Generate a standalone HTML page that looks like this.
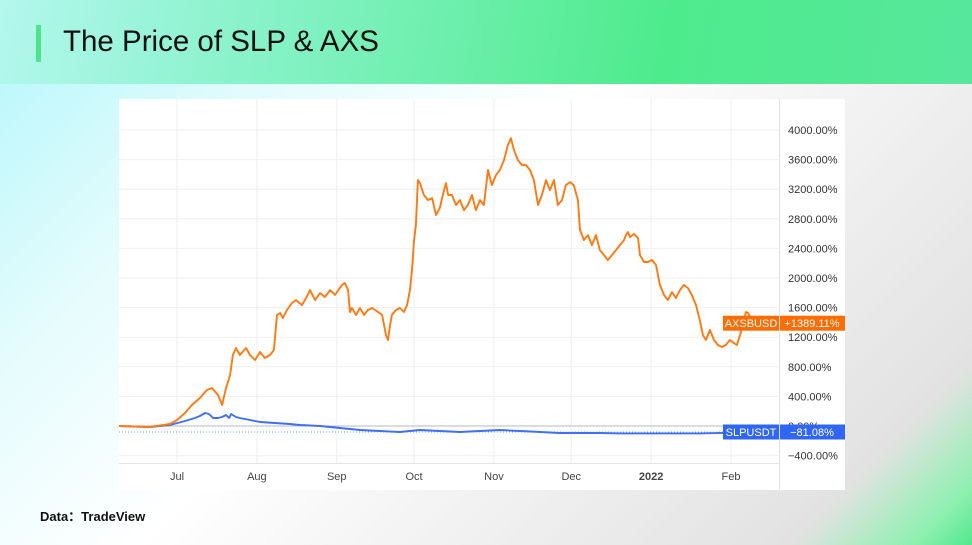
<!DOCTYPE html>
<html><head><meta charset="utf-8"><style>
html,body{margin:0;padding:0;}
body{width:972px;height:545px;position:relative;overflow:hidden;font-family:"Liberation Sans",sans-serif;
background:linear-gradient(135deg,#b2f7fb 0%,#e6fcfd 25%,#ffffff 45%,#eeeeee 70%,#e2e2e2 88%,#8ff0b0 96%,#52e88c 100%);}
#header{position:absolute;left:0;top:0;width:972px;height:84px;background:linear-gradient(100deg,#b4f7ee 0%,#8ef3cf 22%,#4eeb8c 68%,#56e79c 100%);}
#bar{position:absolute;left:36px;top:25px;width:5px;height:37px;background:#4fe38e;}
#title{position:absolute;left:63px;top:25px;font-size:29.5px;color:#111;}
#src{position:absolute;left:40px;top:506px;font-size:13px;font-weight:bold;color:#111;}
#chart{position:absolute;left:0;top:0;}
</style></head><body>
<div id="header"></div>
<div id="bar"></div>
<div id="title">The Price of SLP &amp; AXS</div>
<div id="src">Data：TradeView</div>
<svg id="chart" width="972" height="545"></svg>
<script>
const yTicks=[4000,3600,3200,2800,2400,2000,1600,1200,800,400,0,-400];
const monthLabels=["Jul","Aug","Sep","Oct","Nov","Dec","2022","Feb"];
const monthDays=[0,31,62,92,123,153,184,215];
const axsDays=[-22.5,-10.5,-2.7,0,3.1,5.8,8.9,11.6,13.6,15.9,17.5,19,20.6,21.7,22.9,24.4,26.8,28.3,30.3,32.2,34.1,36.1,37.6,38.8,40,41.1,42.7,44.6,46.2,48.5,50.1,51.6,53.6,55.5,57.4,59.4,61.3,64,65.2,66.4,67.1,67.9,69.5,71,72.6,74.1,75.7,78,79.6,81.1,81.9,82.7,83.4,85,86.5,88.1,89.3,90.4,91.2,92,92.7,93.5,94.3,95.8,97.4,99,100.5,102,103.6,104.4,105.2,106.7,108.3,109.8,111.4,112.9,114.5,116,117.6,119.1,120.7,122.2,123.8,125.3,126.9,128.4,129.6,130.8,132.3,133.9,135.4,137,138.5,140.1,141.6,143.2,144.7,146.3,147.8,149.4,150.9,152.5,154,155.6,156.4,157.9,159.5,161,162.6,164.1,165.7,167.2,168.8,170.4,171.9,173.5,174.2,175,175.8,177.3,178.9,179.7,181.2,182.8,184.3,185.9,187.4,189,190.5,192.1,193.6,195.2,196.7,198.3,199.8,201.4,202.9,204.1,205.3,206.8,208.4,209.9,211.5,213,214.6,216.1,217.3,218.5,219.6,220.8,221.6,223.1,224.7,226.2];
const axsValues=[0,-14,27,81,176,284,378,486,513,419,284,513,689,959,1054,959,1054,959,892,1000,919,959,1027,1500,1527,1459,1567,1662,1702,1635,1729,1837,1702,1797,1743,1837,1770,1905,1932,1837,1540,1594,1500,1594,1500,1567,1594,1540,1500,1229,1162,1365,1500,1567,1594,1540,1635,1837,2108,2513,2716,3323,3283,3121,3053,3080,2851,2945,3188,3283,3121,3121,2986,3053,2918,2986,3121,2918,3053,2986,3459,3256,3391,3459,3594,3796,3891,3729,3594,3526,3526,3459,3323,2986,3121,3323,3188,3323,2986,3053,3256,3296,3256,3053,2648,2513,2580,2445,2580,2378,2310,2243,2310,2378,2445,2513,2580,2621,2553,2594,2540,2310,2216,2216,2243,2175,1905,1770,1702,1810,1729,1837,1905,1864,1770,1635,1432,1229,1162,1297,1162,1094,1067,1094,1162,1121,1094,1229,1365,1540,1527,1432,1459,1389];
const slpDays=[-22.5,-10.5,-2.7,3.1,7,8.9,10.9,12.4,14,15.9,17.5,19,20.2,21,22.9,24.4,28.3,32.2,38,43.8,47.7,55.5,63.3,71,78.8,86.5,94.3,102,109.8,117.6,125.3,133.1,140.9,148.6,156.4,164.1,171.9,179.7,202.9,226.2];
const slpValues=[0,-14,14,68,108,135,176,162,108,108,122,149,108,162,122,108,81,54,41,27,14,0,-27,-54,-68,-81,-54,-68,-81,-68,-54,-68,-81,-95,-95,-95,-100,-100,-100,-81];
const axsLast="+1389.11%", slpLast="\u221281.08%";

const svg=document.getElementById('chart');
const NS="http://www.w3.org/2000/svg";
const X=d=>177+d*(554/215);
const Y=v=>426-v*(29.6/400);
function mk(tag,attrs,parent){const e=document.createElementNS(NS,tag);for(const k in attrs)e.setAttribute(k,attrs[k]);(parent||svg).appendChild(e);return e;}

const panel=mk('rect',{x:119,y:99,width:726,height:391,fill:'#fff'});


const grid=mk('g',{stroke:'#efefef','stroke-width':1});


yTicks.forEach(v=>{mk('line',{x1:119,x2:778,y1:Y(v),y2:Y(v)},grid);});
monthDays.forEach(d=>{mk('line',{x1:X(d),x2:X(d),y1:99,y2:463},grid);});
mk('line',{x1:779.5,x2:779.5,y1:99,y2:490,stroke:'#e4e4e4'});
mk('line',{x1:119,x2:779,y1:463.5,y2:463.5,stroke:'#e4e4e4'});
const zl=mk('line',{x1:119,x2:778,y1:Y(0),y2:Y(0),stroke:'#b8b8c0','stroke-width':1});


mk('line',{x1:119,x2:778,y1:Y(-81),y2:Y(-81),stroke:'#7aa0ff','stroke-width':1,'stroke-dasharray':'1,2'});

const yAxis=mk('g',{'font-size':11,fill:'#333','font-family':'Liberation Sans, sans-serif'});


yTicks.forEach(v=>{const t=mk('text',{x:788,y:Y(v)+4},yAxis);t.textContent=(v<0?'\u2212'+(-v):v)+'.00%';

});
const xAxis=mk('g',{'font-size':11,fill:'#444','text-anchor':'middle'});


monthLabels.forEach((m,i)=>{const t=mk('text',{x:X(monthDays[i]),y:480,'font-weight':m==='2022'?'bold':'normal'},xAxis);t.textContent=m;

});

function line(days,vals,color,name){const p=mk('path',{d:days.map((d,i)=>(i?'L':'M')+X(d).toFixed(1)+','+Y(vals[i]).toFixed(1)).join(''),fill:'none',stroke:color,'stroke-width':1.9,'stroke-linejoin':'round'});

}
line(slpDays,slpValues,'#3f6ff5','slp-line');
line(axsDays,axsValues,'#ff7a14','axs-line');

function tag(v,label,val,color,name){const y=Y(v);const g=mk('g',{});


mk('rect',{x:723,y:y-7.5,width:56,height:15,fill:color},g);mk('rect',{x:780,y:y-7.5,width:65,height:15,fill:color},g);
const a=mk('text',{x:751,y:y+4,'font-size':11,fill:'#fff','text-anchor':'middle'},g);a.textContent=label;
const b=mk('text',{x:812,y:y+4,'font-size':11,fill:'#fff','text-anchor':'middle'},g);b.textContent=val;}
tag(axsValues[axsValues.length-1],'AXSBUSD',axsLast,'#ff6d00','axs-price-tag');
tag(slpValues[slpValues.length-1],'SLPUSDT',slpLast,'#2f66f6','slp-price-tag');
</script>
</body></html>
